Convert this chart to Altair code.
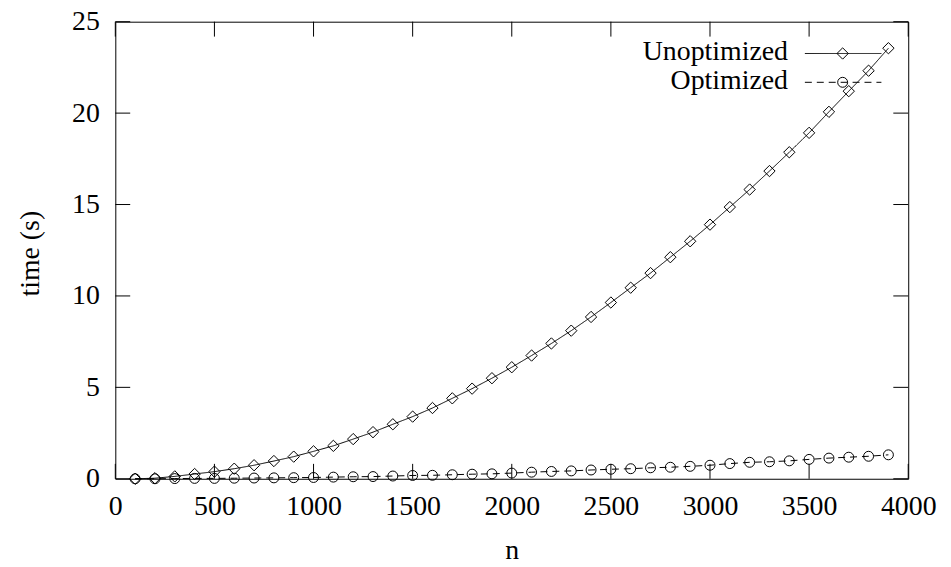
import altair as alt
import pandas as pd

# ---- data ----
N_VALUES = [100, 200, 300, 400, 500, 600, 700, 800, 900, 1000,
            1100, 1200, 1300, 1400, 1500, 1600, 1700, 1800, 1900, 2000,
            2100, 2200, 2300, 2400, 2500, 2600, 2700, 2800, 2900, 3000,
            3100, 3200, 3300, 3400, 3500, 3600, 3700, 3800, 3900]

UNOPTIMIZED = [0.00, 0.03, 0.13, 0.26, 0.39, 0.55, 0.74, 0.97, 1.21, 1.50,
               1.80, 2.17, 2.55, 2.98, 3.40, 3.87, 4.40, 4.93, 5.50, 6.10,
               6.74, 7.40, 8.10, 8.85, 9.64, 10.45, 11.25, 12.12, 12.99, 13.90,
               14.86, 15.82, 16.83, 17.86, 18.92, 20.07, 21.20, 22.32, 23.55]

OPTIMIZED = [0.00, 0.00, 0.01, 0.02, 0.02, 0.03, 0.04, 0.05, 0.06, 0.07,
             0.09, 0.11, 0.12, 0.15, 0.18, 0.19, 0.22, 0.25, 0.27, 0.31,
             0.36, 0.40, 0.43, 0.48, 0.52, 0.55, 0.60, 0.63, 0.68, 0.74,
             0.83, 0.90, 0.93, 0.98, 1.06, 1.13, 1.18, 1.23, 1.31]

SERIES = ["Unoptimized", "Optimized"]
X_TICKS = [0, 500, 1000, 1500, 2000, 2500, 3000, 3500, 4000]
Y_TICKS = [0, 5, 10, 15, 20, 25]
X_TITLE = "n"
Y_TITLE = "time (s)"

FONT = "'Liberation Serif', 'DejaVu Serif', serif"
FS = 28
W, H = 798, 460

df = pd.DataFrame({
    "n": N_VALUES * 2,
    "time": UNOPTIMIZED + OPTIMIZED,
    "series": [SERIES[0]] * len(N_VALUES) + [SERIES[1]] * len(N_VALUES),
})

xscale = alt.Scale(domain=[0, 4000], nice=False, zero=False)
yscale = alt.Scale(domain=[0, 25], nice=False, zero=False)

x_axis = alt.Axis(values=X_TICKS, format="d", ticks=False, tickSize=0, domain=False, grid=False,
                  labelFont=FONT, labelFontSize=FS, labelColor="black",
                  labelPadding=14, labelOverlap=False, labelFlush=False,
                  title=X_TITLE, titleFont=FONT, titleFontSize=FS,
                  titleFontWeight="normal", titleColor="black",
                  titleX=W / 2, titleY=80, titleBaseline="alphabetic",
                  titleAlign="center")
y_axis = alt.Axis(values=Y_TICKS, format="d", ticks=False, tickSize=0, domain=False, grid=False,
                  labelFont=FONT, labelFontSize=FS, labelColor="black",
                  labelPadding=16, labelOverlap=False, labelFlush=False,
                  title=Y_TITLE, titleFont=FONT, titleFontSize=FS,
                  titleFontWeight="normal", titleColor="black",
                  titleX=-77, titleY=233, titleAngle=270,
                  titleBaseline="alphabetic", titleAlign="center")

series_scale_dash = alt.Scale(domain=SERIES, range=[[1, 0], [7, 5]])
series_scale_shape = alt.Scale(domain=SERIES, range=["diamond", "circle"])
series_scale_size = alt.Scale(domain=SERIES, range=[130, 100])

X = lambda f: alt.X(f, scale=xscale, axis=x_axis)
Y = lambda f: alt.Y(f, scale=yscale, axis=y_axis)

lines = alt.Chart(df).mark_line(color="black", strokeWidth=1).encode(
    x=X("n:Q"),
    y=Y("time:Q"),
    strokeDash=alt.StrokeDash("series:N", scale=series_scale_dash, legend=None),
    detail="series:N",
)

points = alt.Chart(df).mark_point(filled=False, color="black", strokeWidth=1, opacity=1).encode(
    x=X("n:Q"),
    y=Y("time:Q"),
    shape=alt.Shape("series:N", scale=series_scale_shape, legend=None),
    size=alt.Size("series:N", scale=series_scale_size, legend=None),
)

# inward tick marks (gnuplot style, mirrored)
xt = pd.DataFrame({"t": X_TICKS})
yt = pd.DataFrame({"t": Y_TICKS})
TL = 15
xticks_b = alt.Chart(xt).mark_rule(color="black", strokeWidth=1).encode(
    x=X("t:Q"), y=alt.value(H), y2=alt.value(H - TL))
xticks_t = alt.Chart(xt).mark_rule(color="black", strokeWidth=1).encode(
    x=X("t:Q"), y=alt.value(0), y2=alt.value(TL))
yticks_l = alt.Chart(yt).mark_rule(color="black", strokeWidth=1).encode(
    y=Y("t:Q"), x=alt.value(0), x2=alt.value(TL))
yticks_r = alt.Chart(yt).mark_rule(color="black", strokeWidth=1).encode(
    y=Y("t:Q"), x=alt.value(W), x2=alt.value(W - TL))

# manual legend (labels left of samples, as in gnuplot)
def legend_entry(name, row_y, dash, shape, size):
    ldf = pd.DataFrame({"label": [name]})
    txt = alt.Chart(ldf).mark_text(font=FONT, fontSize=FS, align="right",
                                   baseline="alphabetic", color="black").encode(
        text="label:N", x=alt.value(677), y=alt.value(row_y + 7))
    rule = alt.Chart(ldf).mark_rule(color="black", strokeWidth=1, strokeDash=dash).encode(
        x=alt.value(694), x2=alt.value(771), y=alt.value(row_y))
    pt = alt.Chart(ldf).mark_point(filled=False, color="black", strokeWidth=1,
                                   shape=shape, size=size, opacity=1).encode(
        x=alt.value(732), y=alt.value(row_y))
    return [txt, rule, pt]

leg = legend_entry(SERIES[0], 32, [1, 0], "diamond", 130) + \
      legend_entry(SERIES[1], 61, [7, 5], "circle", 100)

chart = alt.layer(lines, points, xticks_b, xticks_t, yticks_l, yticks_r, *leg).properties(
    width=W, height=H,
    autosize=alt.AutoSizeParams(type="none"),
    padding={"left": 108, "top": 12, "right": 35, "bottom": 85},
    background="white",
).configure_view(stroke="black", strokeWidth=1)

chart.save("out.html", embed_options={"renderer": "svg", "actions": False})
